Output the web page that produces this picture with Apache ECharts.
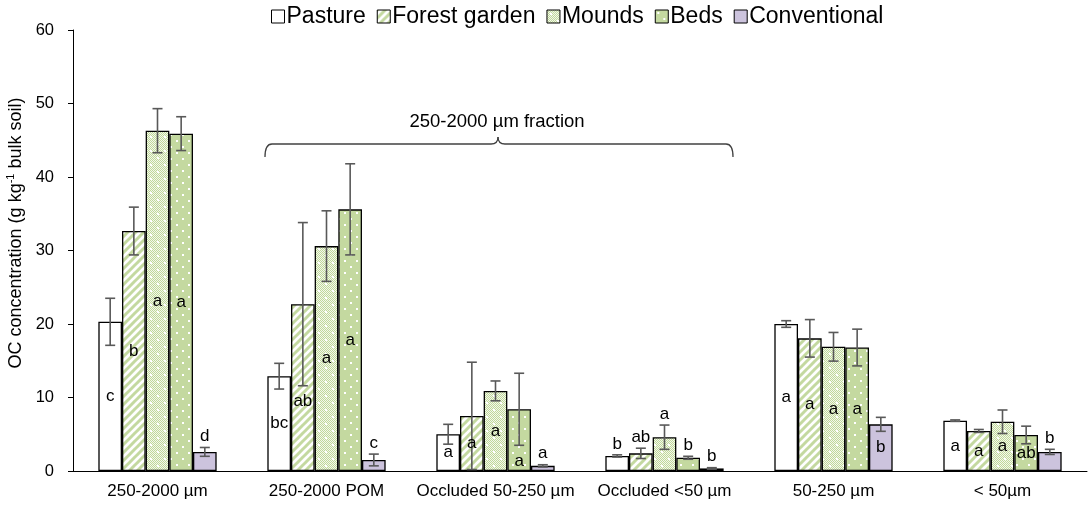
<!DOCTYPE html>
<html>
<head>
<meta charset="utf-8">
<script src="https://cdn.jsdelivr.net/npm/echarts@6/dist/echarts.min.js"></script>
<style>
html,body{margin:0;padding:0;background:#fff;}
#chart{width:1091px;height:506px;}
</style>
</head>
<body>
<div id="chart"></div>
<script>
const categories = ['250-2000 µm', '250-2000 POM', 'Occluded 50-250 µm', 'Occluded <50 µm', '50-250 µm', '< 50µm'];
const treatments = ['Pasture', 'Forest garden', 'Mounds', 'Beds', 'Conventional'];
const yTicks = [0, 10, 20, 30, 40, 50, 60];

const pasture = [20.3, 12.9, 5.0, 2.05, 20.0, 6.85];
const pastureErr = [3.2, 1.75, 1.35, 0.15, 0.45, 0.1];
const pastureLetters = ['c', 'bc', 'a', 'b', 'a', 'a'];

const forestGarden = [32.65, 22.7, 7.5, 2.4, 18.05, 5.45];
const forestGardenErr = [3.25, 11.1, 7.3, 0.7, 2.55, 0.2];
const forestGardenLetters = ['b', 'ab', 'a', 'ab', 'a', 'a'];

const mounds = [46.3, 30.6, 10.9, 4.6, 16.9, 6.7];
const moundsErr = [3.0, 4.8, 1.35, 1.65, 1.95, 1.6];
const moundsLetters = ['a', 'a', 'a', 'a', 'a', 'a'];

const beds = [45.9, 35.6, 8.4, 1.8, 16.8, 4.9];
const bedsErr = [2.3, 6.2, 4.9, 0.2, 2.5, 1.2];
const bedsLetters = ['a', 'a', 'a', 'b', 'a', 'ab'];

const conventional = [2.6, 1.5, 0.7, 0.35, 6.35, 2.6];
const conventionalErr = [0.6, 0.8, 0.15, 0.1, 0.95, 0.35];
const conventionalLetters = ['d', 'c', 'a', 'b', 'b', 'b'];

const annotationText = '250-2000 µm fraction';

const values = [pasture, forestGarden, mounds, beds, conventional];
const errs = [pastureErr, forestGardenErr, moundsErr, bedsErr, conventionalErr];
const letters = [pastureLetters, forestGardenLetters, moundsLetters, bedsLetters, conventionalLetters];

const GREEN = '#c4d9a0';
const FONT = '"Liberation Sans", Arial, sans-serif';

function makeCanvas(w, h, draw) {
  const c = document.createElement('canvas');
  c.width = w; c.height = h;
  draw(c.getContext('2d'), w, h);
  return c;
}
const stripe = makeCanvas(8, 8, (g, w, h) => {
  g.fillStyle = '#fff'; g.fillRect(0, 0, w, h);
  g.strokeStyle = GREEN; g.lineWidth = 3;
  g.beginPath();
  for (let k = -1; k <= 1; k++) {
    g.moveTo(k * 8 - 1, 9); g.lineTo(k * 8 + 9, -1);
  }
  g.stroke();
});
const checker = makeCanvas(14, 14, (g, w, h) => {
  g.fillStyle = '#f4f8ec'; g.fillRect(0, 0, w, h);
  g.fillStyle = '#c0d89a';
  for (let i = 0; i < w; i++) for (let j = 0; j < h; j++) if ((i + j) % 2 === 0) g.fillRect(i, j, 1, 1);
  g.fillStyle = '#fff';
  g.fillRect(3, 3, 2, 2); g.fillRect(10, 10, 2, 2);
});
const dots = makeCanvas(12, 12, (g, w, h) => {
  g.fillStyle = GREEN; g.fillRect(0, 0, w, h);
  g.fillStyle = '#fff';
  g.fillRect(2, 2, 2, 2); g.fillRect(8, 8, 2, 2);
});

const fills = [
  '#ffffff',
  { image: stripe, repeat: 'repeat' },
  { image: checker, repeat: 'repeat' },
  { image: dots, repeat: 'repeat' },
  '#ccc3dd'
];

const chart = echarts.init(document.getElementById('chart'), null, { renderer: 'canvas' });

const series = [];
treatments.forEach((name, i) => {
  series.push({
    name: name,
    type: 'bar',
    data: values[i],
    barGap: '0%',
    barCategoryGap: '30%',
    itemStyle: { color: fills[i], borderColor: '#000', borderWidth: 1.3 },
    emphasis: { disabled: true },
    z: 2
  });
});
treatments.forEach((name, i) => {
  series.push({
    name: name + ' error',
    type: 'custom',
    coordinateSystem: 'cartesian2d',
    data: values[i].map((v, k) => [k, v, errs[i][k]]),
    encode: { x: 0, y: 1 },
    clip: false,
    z: 5,
    silent: true,
    renderItem: function (params, api) {
      const k = api.value(0), v = api.value(1), e = api.value(2);
      const band = api.size([1, 0])[0];
      const bw = band * 0.7 / 5;
      const base = api.coord([k, 0]);
      const cx = base[0] + (i - 2) * bw;
      const yTop = api.coord([k, v + e])[1];
      const yBot = api.coord([k, Math.max(v - e, 0)])[1];
      const y0 = base[1];
      const cap = 5;
      const lineStyle = { stroke: '#595959', lineWidth: 1.6 };
      const children = [
        { type: 'line', shape: { x1: cx, y1: yTop, x2: cx, y2: yBot }, style: lineStyle },
        { type: 'line', shape: { x1: cx - cap, y1: yTop, x2: cx + cap, y2: yTop }, style: lineStyle },
        { type: 'line', shape: { x1: cx - cap, y1: yBot, x2: cx + cap, y2: yBot }, style: lineStyle }
      ];
      let ly;
      if (v < 4.75) {
        ly = yTop - 11;
      } else {
        const mid = api.coord([k, v / 2])[1];
        ly = mid;
        const labelTop = mid - 8;
        if (labelTop < yBot && yBot + 24 <= y0 + 2) {
          ly = yBot + 16;
        }
      }
      children.push({
        type: 'text',
        z2: 10,
        style: {
          text: letters[i][params.dataIndex],
          x: cx, y: ly,
          align: 'center', verticalAlign: 'middle',
          textAlign: 'center', textVerticalAlign: 'middle',
          font: '17px ' + FONT,
          fill: '#000'
        }
      });
      return { type: 'group', children: children };
    }
  });
});

const bracketStyle = { stroke: '#404040', lineWidth: 1.3, fill: null };

const option = {
  animation: false,
  backgroundColor: '#fff',
  textStyle: { fontFamily: FONT },
  legend: {
    data: treatments,
    left: 266,
    top: 0,
    itemWidth: 13,
    itemHeight: 13,
    itemGap: 11,
    icon: 'rect',
    itemStyle: { borderColor: '#000', borderWidth: 1 },
    textStyle: { fontSize: 23, color: '#000', fontFamily: FONT, padding: [0, 0, 0, -3] },
    selectedMode: false
  },
  grid: { left: 73, right: 4, top: 30, bottom: 35, outerBoundsMode: 'none', containLabel: false },
  xAxis: {
    type: 'category',
    data: categories,
    axisLine: { lineStyle: { color: '#000', width: 1 } },
    axisTick: { show: false },
    axisLabel: { fontSize: 17, color: '#000', margin: 12, fontFamily: FONT, interval: 0 }
  },
  yAxis: {
    type: 'value',
    min: yTicks[0],
    max: yTicks[yTicks.length - 1],
    interval: yTicks[1] - yTicks[0],
    axisLine: { show: true, lineStyle: { color: '#000', width: 1 } },
    axisTick: { show: true, length: 5, lineStyle: { color: '#000' } },
    splitLine: { show: false },
    axisLabel: { fontSize: 16.5, color: '#000', margin: 19, fontFamily: FONT }
  },
  graphic: [
    {
      type: 'text',
      x: 16, y: 233,
      rotation: Math.PI / 2,
      style: {
        text: '{n|OC concentration (g kg}{s|-1}{n| bulk soil)}',
        align: 'center', verticalAlign: 'middle',
        textAlign: 'center', textVerticalAlign: 'middle',
        fill: '#000',
        rich: {
          n: { fontSize: 18, fontFamily: FONT, lineHeight: 21, fill: '#000', color: '#000' },
          s: { fontSize: 11, fontFamily: FONT, lineHeight: 12, verticalAlign: 'top', fill: '#000', color: '#000' }
        }
      }
    },
    {
      type: 'text',
      x: 497, y: 122,
      style: {
        text: annotationText,
        align: 'center', verticalAlign: 'middle',
        textAlign: 'center', textVerticalAlign: 'middle',
        font: '18.5px ' + FONT,
        fill: '#000'
      }
    },
    { type: 'bezierCurve', shape: { x1: 265, y1: 157, cpx1: 265, cpy1: 144, x2: 272, y2: 144 }, style: bracketStyle },
    { type: 'line', shape: { x1: 272, y1: 144, x2: 491, y2: 144 }, style: bracketStyle },
    { type: 'bezierCurve', shape: { x1: 491, y1: 144, cpx1: 498, cpy1: 144, x2: 498, y2: 137 }, style: bracketStyle },
    { type: 'bezierCurve', shape: { x1: 498, y1: 137, cpx1: 498, cpy1: 144, x2: 505, y2: 144 }, style: bracketStyle },
    { type: 'line', shape: { x1: 505, y1: 144, x2: 726, y2: 144 }, style: bracketStyle },
    { type: 'bezierCurve', shape: { x1: 726, y1: 144, cpx1: 733, cpy1: 144, x2: 733, y2: 157 }, style: bracketStyle }
  ],
  series: series
};
chart.setOption(option);
</script>
</body>
</html>
